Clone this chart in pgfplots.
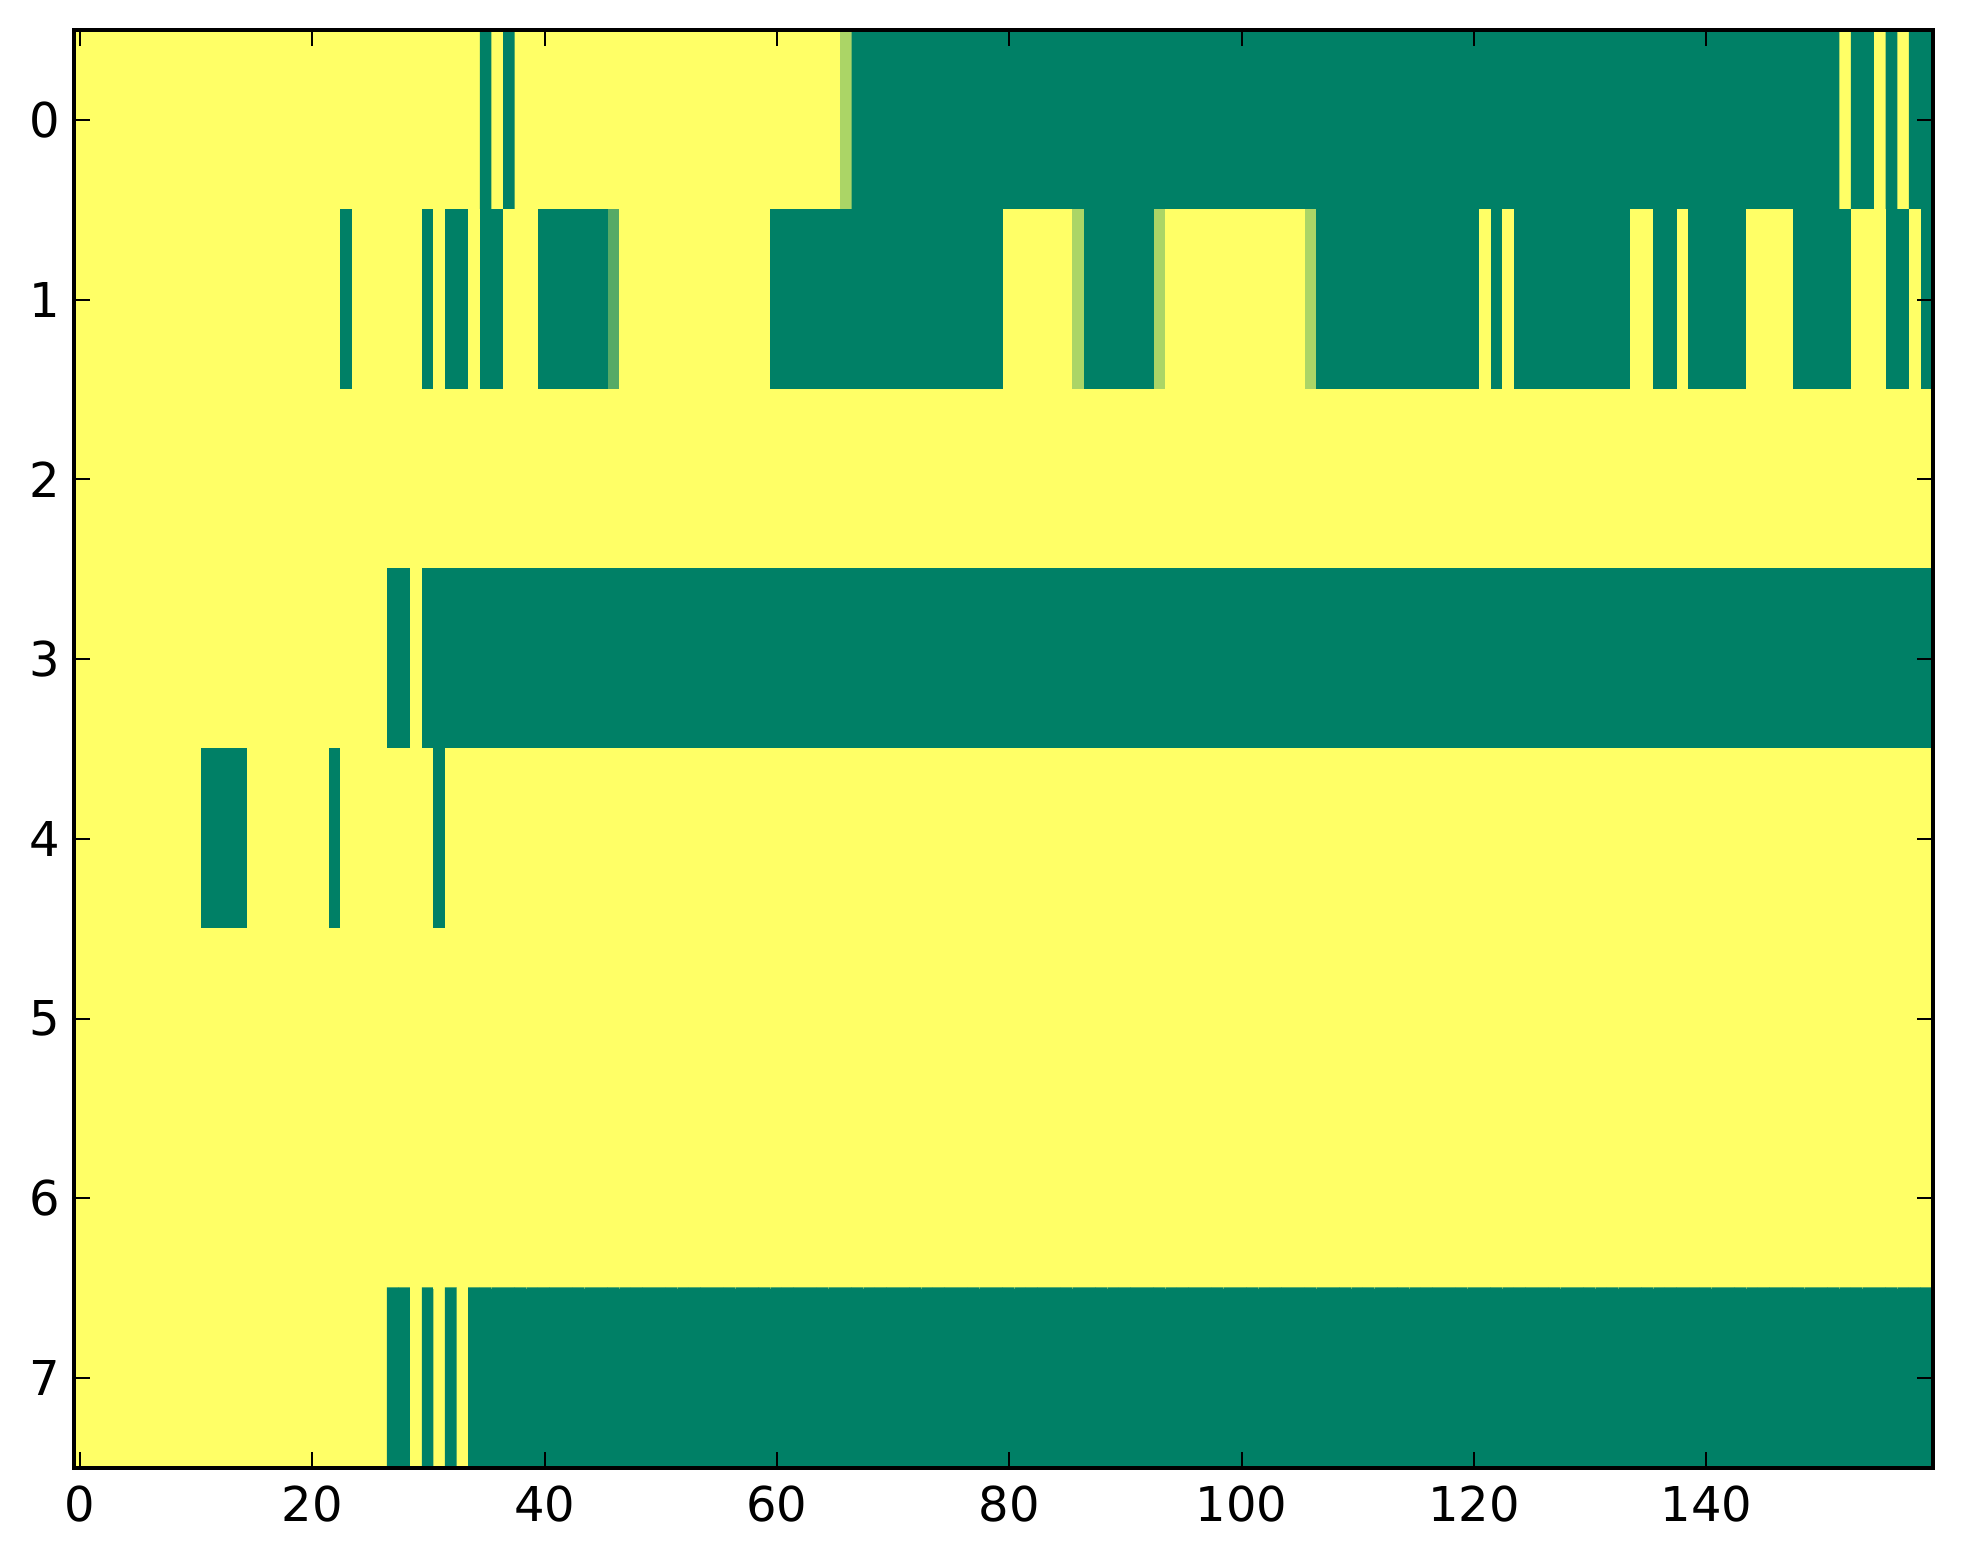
\documentclass[border=0pt]{standalone}
\usepackage{fontspec}
\setmainfont{DejaVu Sans}
\usepackage{pgfplots}
\pgfplotsset{compat=1.18}
\begin{document}
\begin{tikzpicture}
\begin{axis}[
  name=ax,
  scale only axis,
  width=464.75pt, height=359.5pt,
  xmin=-0.5, xmax=159.5, ymin=-0.5, ymax=7.5,
  y dir=reverse,
  xtick={0,20,...,140}, ytick={0,1,...,7},
  tick align=inside,
  major tick length=4pt,
  axis line style={line width=1pt},
  every tick/.style={black, line width=0.5pt},
  axis on top,
  colormap={summer}{rgb=(0,0.5,0.4) rgb=(1,1,0.4)},
  point meta min=0, point meta max=1,
  /pgf/number format/assume math mode=true,
  tick label style={font=\fontsize{12}{14.4}\selectfont},
  xticklabel style={yshift=-1pt},
]
\addplot[matrix plot*, mesh/cols=160, point meta=explicit]
table[row sep=\\, x expr={mod(\coordindex,160)}, y expr={floor(\coordindex/160)}, meta=v] {
v\\
% row 0
1\\1\\1\\1\\1\\1\\1\\1\\1\\1\\% 0
1\\1\\1\\1\\1\\1\\1\\1\\1\\1\\% 10
1\\1\\1\\1\\1\\1\\1\\1\\1\\1\\% 20
1\\1\\1\\1\\1\\0\\1\\0\\1\\1\\% 30
1\\1\\1\\1\\1\\1\\1\\1\\1\\1\\% 40
1\\1\\1\\1\\1\\1\\1\\1\\1\\1\\% 50
1\\1\\1\\1\\1\\1\\0.667\\0\\0\\0\\% 60
0\\0\\0\\0\\0\\0\\0\\0\\0\\0\\% 70
0\\0\\0\\0\\0\\0\\0\\0\\0\\0\\% 80
0\\0\\0\\0\\0\\0\\0\\0\\0\\0\\% 90
0\\0\\0\\0\\0\\0\\0\\0\\0\\0\\% 100
0\\0\\0\\0\\0\\0\\0\\0\\0\\0\\% 110
0\\0\\0\\0\\0\\0\\0\\0\\0\\0\\% 120
0\\0\\0\\0\\0\\0\\0\\0\\0\\0\\% 130
0\\0\\0\\0\\0\\0\\0\\0\\0\\0\\% 140
0\\0\\1\\0\\0\\1\\0\\1\\0\\0\\% 150
% row 1
1\\1\\1\\1\\1\\1\\1\\1\\1\\1\\% 0
1\\1\\1\\1\\1\\1\\1\\1\\1\\1\\% 10
1\\1\\1\\0\\1\\1\\1\\1\\1\\1\\% 20
0\\1\\0\\0\\1\\0\\0\\1\\1\\1\\% 30
0\\0\\0\\0\\0\\0\\0.333\\1\\1\\1\\% 40
1\\1\\1\\1\\1\\1\\1\\1\\1\\1\\% 50
0\\0\\0\\0\\0\\0\\0\\0\\0\\0\\% 60
0\\0\\0\\0\\0\\0\\0\\0\\0\\0\\% 70
1\\1\\1\\1\\1\\1\\0.667\\0\\0\\0\\% 80
0\\0\\0\\0.667\\1\\1\\1\\1\\1\\1\\% 90
1\\1\\1\\1\\1\\1\\0.667\\0\\0\\0\\% 100
0\\0\\0\\0\\0\\0\\0\\0\\0\\0\\% 110
0\\1\\0\\1\\0\\0\\0\\0\\0\\0\\% 120
0\\0\\0\\0\\1\\1\\0\\0\\1\\0\\% 130
0\\0\\0\\0\\1\\1\\1\\1\\0\\0\\% 140
0\\0\\0\\1\\1\\1\\0\\0\\1\\0\\% 150
% row 2
1\\1\\1\\1\\1\\1\\1\\1\\1\\1\\% 0
1\\1\\1\\1\\1\\1\\1\\1\\1\\1\\% 10
1\\1\\1\\1\\1\\1\\1\\1\\1\\1\\% 20
1\\1\\1\\1\\1\\1\\1\\1\\1\\1\\% 30
1\\1\\1\\1\\1\\1\\1\\1\\1\\1\\% 40
1\\1\\1\\1\\1\\1\\1\\1\\1\\1\\% 50
1\\1\\1\\1\\1\\1\\1\\1\\1\\1\\% 60
1\\1\\1\\1\\1\\1\\1\\1\\1\\1\\% 70
1\\1\\1\\1\\1\\1\\1\\1\\1\\1\\% 80
1\\1\\1\\1\\1\\1\\1\\1\\1\\1\\% 90
1\\1\\1\\1\\1\\1\\1\\1\\1\\1\\% 100
1\\1\\1\\1\\1\\1\\1\\1\\1\\1\\% 110
1\\1\\1\\1\\1\\1\\1\\1\\1\\1\\% 120
1\\1\\1\\1\\1\\1\\1\\1\\1\\1\\% 130
1\\1\\1\\1\\1\\1\\1\\1\\1\\1\\% 140
1\\1\\1\\1\\1\\1\\1\\1\\1\\1\\% 150
% row 3
1\\1\\1\\1\\1\\1\\1\\1\\1\\1\\% 0
1\\1\\1\\1\\1\\1\\1\\1\\1\\1\\% 10
1\\1\\1\\1\\1\\1\\1\\0\\0\\1\\% 20
0\\0\\0\\0\\0\\0\\0\\0\\0\\0\\% 30
0\\0\\0\\0\\0\\0\\0\\0\\0\\0\\% 40
0\\0\\0\\0\\0\\0\\0\\0\\0\\0\\% 50
0\\0\\0\\0\\0\\0\\0\\0\\0\\0\\% 60
0\\0\\0\\0\\0\\0\\0\\0\\0\\0\\% 70
0\\0\\0\\0\\0\\0\\0\\0\\0\\0\\% 80
0\\0\\0\\0\\0\\0\\0\\0\\0\\0\\% 90
0\\0\\0\\0\\0\\0\\0\\0\\0\\0\\% 100
0\\0\\0\\0\\0\\0\\0\\0\\0\\0\\% 110
0\\0\\0\\0\\0\\0\\0\\0\\0\\0\\% 120
0\\0\\0\\0\\0\\0\\0\\0\\0\\0\\% 130
0\\0\\0\\0\\0\\0\\0\\0\\0\\0\\% 140
0\\0\\0\\0\\0\\0\\0\\0\\0\\0\\% 150
% row 4
1\\1\\1\\1\\1\\1\\1\\1\\1\\1\\% 0
1\\0\\0\\0\\0\\1\\1\\1\\1\\1\\% 10
1\\1\\0\\1\\1\\1\\1\\1\\1\\1\\% 20
1\\0\\1\\1\\1\\1\\1\\1\\1\\1\\% 30
1\\1\\1\\1\\1\\1\\1\\1\\1\\1\\% 40
1\\1\\1\\1\\1\\1\\1\\1\\1\\1\\% 50
1\\1\\1\\1\\1\\1\\1\\1\\1\\1\\% 60
1\\1\\1\\1\\1\\1\\1\\1\\1\\1\\% 70
1\\1\\1\\1\\1\\1\\1\\1\\1\\1\\% 80
1\\1\\1\\1\\1\\1\\1\\1\\1\\1\\% 90
1\\1\\1\\1\\1\\1\\1\\1\\1\\1\\% 100
1\\1\\1\\1\\1\\1\\1\\1\\1\\1\\% 110
1\\1\\1\\1\\1\\1\\1\\1\\1\\1\\% 120
1\\1\\1\\1\\1\\1\\1\\1\\1\\1\\% 130
1\\1\\1\\1\\1\\1\\1\\1\\1\\1\\% 140
1\\1\\1\\1\\1\\1\\1\\1\\1\\1\\% 150
% row 5
1\\1\\1\\1\\1\\1\\1\\1\\1\\1\\% 0
1\\1\\1\\1\\1\\1\\1\\1\\1\\1\\% 10
1\\1\\1\\1\\1\\1\\1\\1\\1\\1\\% 20
1\\1\\1\\1\\1\\1\\1\\1\\1\\1\\% 30
1\\1\\1\\1\\1\\1\\1\\1\\1\\1\\% 40
1\\1\\1\\1\\1\\1\\1\\1\\1\\1\\% 50
1\\1\\1\\1\\1\\1\\1\\1\\1\\1\\% 60
1\\1\\1\\1\\1\\1\\1\\1\\1\\1\\% 70
1\\1\\1\\1\\1\\1\\1\\1\\1\\1\\% 80
1\\1\\1\\1\\1\\1\\1\\1\\1\\1\\% 90
1\\1\\1\\1\\1\\1\\1\\1\\1\\1\\% 100
1\\1\\1\\1\\1\\1\\1\\1\\1\\1\\% 110
1\\1\\1\\1\\1\\1\\1\\1\\1\\1\\% 120
1\\1\\1\\1\\1\\1\\1\\1\\1\\1\\% 130
1\\1\\1\\1\\1\\1\\1\\1\\1\\1\\% 140
1\\1\\1\\1\\1\\1\\1\\1\\1\\1\\% 150
% row 6
1\\1\\1\\1\\1\\1\\1\\1\\1\\1\\% 0
1\\1\\1\\1\\1\\1\\1\\1\\1\\1\\% 10
1\\1\\1\\1\\1\\1\\1\\1\\1\\1\\% 20
1\\1\\1\\1\\1\\1\\1\\1\\1\\1\\% 30
1\\1\\1\\1\\1\\1\\1\\1\\1\\1\\% 40
1\\1\\1\\1\\1\\1\\1\\1\\1\\1\\% 50
1\\1\\1\\1\\1\\1\\1\\1\\1\\1\\% 60
1\\1\\1\\1\\1\\1\\1\\1\\1\\1\\% 70
1\\1\\1\\1\\1\\1\\1\\1\\1\\1\\% 80
1\\1\\1\\1\\1\\1\\1\\1\\1\\1\\% 90
1\\1\\1\\1\\1\\1\\1\\1\\1\\1\\% 100
1\\1\\1\\1\\1\\1\\1\\1\\1\\1\\% 110
1\\1\\1\\1\\1\\1\\1\\1\\1\\1\\% 120
1\\1\\1\\1\\1\\1\\1\\1\\1\\1\\% 130
1\\1\\1\\1\\1\\1\\1\\1\\1\\1\\% 140
1\\1\\1\\1\\1\\1\\1\\1\\1\\1\\% 150
% row 7
1\\1\\1\\1\\1\\1\\1\\1\\1\\1\\% 0
1\\1\\1\\1\\1\\1\\1\\1\\1\\1\\% 10
1\\1\\1\\1\\1\\1\\1\\0\\0\\1\\% 20
0\\1\\0\\1\\0\\0\\0\\0\\0\\0\\% 30
0\\0\\0\\0\\0\\0\\0\\0\\0\\0\\% 40
0\\0\\0\\0\\0\\0\\0\\0\\0\\0\\% 50
0\\0\\0\\0\\0\\0\\0\\0\\0\\0\\% 60
0\\0\\0\\0\\0\\0\\0\\0\\0\\0\\% 70
0\\0\\0\\0\\0\\0\\0\\0\\0\\0\\% 80
0\\0\\0\\0\\0\\0\\0\\0\\0\\0\\% 90
0\\0\\0\\0\\0\\0\\0\\0\\0\\0\\% 100
0\\0\\0\\0\\0\\0\\0\\0\\0\\0\\% 110
0\\0\\0\\0\\0\\0\\0\\0\\0\\0\\% 120
0\\0\\0\\0\\0\\0\\0\\0\\0\\0\\% 130
0\\0\\0\\0\\0\\0\\0\\0\\0\\0\\% 140
0\\0\\0\\0\\0\\0\\0\\0\\0\\0\\% 150
};
\end{axis}
\path ([shift={(-18.5pt,-24pt)}]ax.south west) rectangle ([shift={(7.5pt,7.5pt)}]ax.north east);
\end{tikzpicture}
\end{document}
